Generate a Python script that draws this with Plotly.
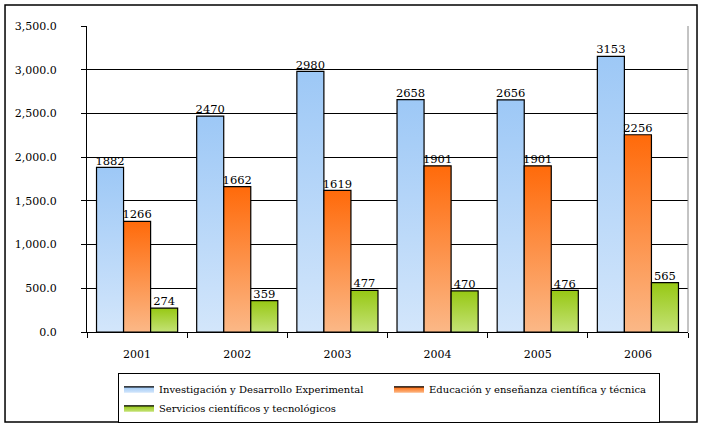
import plotly.graph_objects as go

years = ["2001", "2002", "2003", "2004", "2005", "2006"]
series_names = [
    "Investigación y Desarrollo Experimental",
    "Educación y enseñanza científica y técnica",
    "Servicios científicos y tecnológicos",
]
idi = [1882, 2470, 2980, 2658, 2656, 3153]
edu = [1266, 1662, 1619, 1901, 1901, 2256]
serv = [274, 359, 477, 470, 476, 565]
y_ticks = [0, 500, 1000, 1500, 2000, 2500, 3000, 3500]

series_values = [idi, edu, serv]
gradients = [
    [[0, "#D3E6FB"], [1, "#9DC8F6"]],
    [[0, "#FBB887"], [1, "#FF6A0A"]],
    [[0, "#C4E276"], [1, "#97C814"]],
]
bar_w = 0.27
offsets = [-bar_w, 0.0, bar_w]
FONT = "DejaVu Serif"

fig = go.Figure()
for s, (name, vals) in enumerate(zip(series_names, series_values)):
    for i, v in enumerate(vals):
        xc = i + offsets[s]
        x0, x1 = xc - bar_w / 2, xc + bar_w / 2
        fig.add_trace(go.Scatter(
            x=[x0, x0, x1, x1, x0], y=[0, v, v, 0, 0],
            mode="lines", fill="toself",
            line=dict(color="black", width=1.2),
            fillgradient=dict(type="vertical", colorscale=gradients[s]),
            name=name, legendgroup=name, showlegend=(i == 0),
            hoverinfo="skip",
        ))
    fig.add_trace(go.Scatter(
        x=[i + offsets[s] for i in range(len(vals))], y=vals,
        mode="text", text=[str(v) for v in vals],
        textposition="top center",
        textfont=dict(family=FONT, size=11.5, color="black"),
        showlegend=False, hoverinfo="skip",
    ))

minor_vals = [i - 0.5 for i in range(len(years) + 1)]

fig.update_layout(
    width=703, height=427,
    margin=dict(l=87, r=15, t=26, b=95, autoexpand=False),
    paper_bgcolor="white", plot_bgcolor="white",
    font=dict(family=FONT, size=12, color="black"),
    xaxis=dict(
        range=[-0.5, len(years) - 0.5],
        tickvals=list(range(len(years))), ticktext=years,
        ticks="", showgrid=False, zeroline=False,
        showline=True, linecolor="black", linewidth=1,
        tickfont=dict(size=11), ticklabelstandoff=12,
        minor=dict(tickvals=minor_vals, ticks="outside", ticklen=5,
                   tickcolor="black", showgrid=False),
        fixedrange=True,
    ),
    yaxis=dict(
        range=[0, 3500], tickvals=y_ticks, tickformat=",.1f",
        ticks="outside", ticklen=5, tickcolor="black",
        showgrid=True, gridcolor="black", gridwidth=1,
        zeroline=False, showline=True, linecolor="black", linewidth=1,
        tickfont=dict(size=11), ticklabelstandoff=22,
        fixedrange=True,
    ),
    legend=dict(
        orientation="h", x=0.0516, y=-0.135, xanchor="left", yanchor="top",
        bordercolor="black", borderwidth=1, bgcolor="white",
        font=dict(family=FONT, size=10),
        entrywidth=225, entrywidthmode="pixels",
        traceorder="normal", tracegroupgap=0, itemwidth=30,
    ),
    showlegend=True,
    shapes=[
        dict(type="rect", xref="paper", yref="paper",
             x0=-0.1364, x1=1.015, y0=-0.294, y1=1.0686,
             line=dict(color="black", width=1.5), layer="below"),
        dict(type="line", xref="paper", yref="paper",
             x0=1, x1=1, y0=0, y1=1, line=dict(color="#888888", width=1)),
    ],
)

fig.write_html(
    "out.html",
    config={"displayModeBar": False},
    post_script="document.body.style.margin='0';document.body.style.padding='0';",
)
